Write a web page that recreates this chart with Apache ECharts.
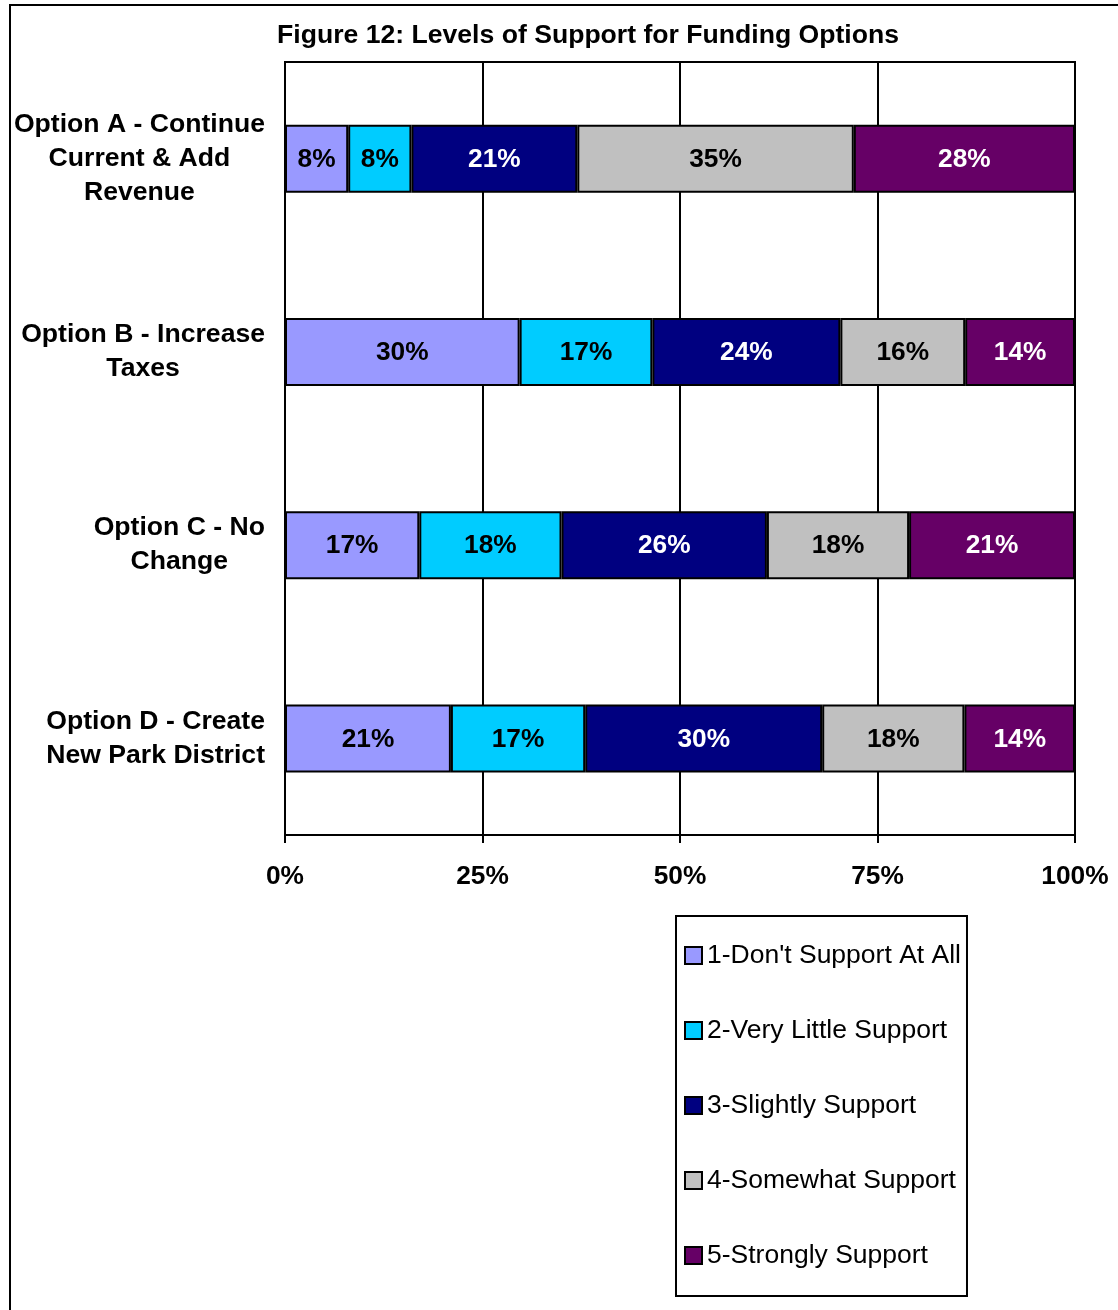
<!DOCTYPE html>
<html>
<head>
<meta charset="utf-8">
<script src="https://cdn.jsdelivr.net/npm/echarts@6/dist/echarts.min.js"></script>
<style>
html,body{margin:0;padding:0;background:#fff;}
#chart{width:1118px;height:1310px;}
</style>
</head>
<body>
<div id="chart"></div>
<script>
const titleText = "Figure 12: Levels of Support for Funding Options";
const categories = [
  "Option A - Continue\nCurrent & Add\nRevenue",
  "Option B - Increase\nTaxes",
  "Option C - No\nChange",
  "Option D - Create\nNew Park District"
];
const seriesNames = [
  "1-Don't Support At All",
  "2-Very Little Support",
  "3-Slightly Support",
  "4-Somewhat Support",
  "5-Strongly Support"
];
const dontSupport = [8, 29.7, 17, 21];
const veryLittle = [8, 16.8, 18, 17];
const slightly = [21, 23.8, 26, 30];
const somewhat = [35, 15.8, 18, 18];
const strongly = [28, 13.9, 21, 14];
const xTicks = [0, 25, 50, 75, 100];

const colors = ['#9999FF', '#00CCFF', '#000080', '#C0C0C0', '#660066'];
const labelColors = ['#000', '#000', '#fff', '#000', '#fff'];
const values = [dontSupport, veryLittle, slightly, somewhat, strongly];
const FONT = "'Liberation Sans', Arial, Helvetica, sans-serif";

const chart = echarts.init(document.getElementById('chart'), null, {renderer: 'canvas'});

const series = seriesNames.map((name, i) => ({
  name: name,
  type: 'bar',
  stack: 'total',
  barWidth: 68,
  data: values[i],
  itemStyle: {color: colors[i], borderColor: '#000', borderWidth: 2},
  label: {
    show: true,
    position: 'inside',
    offset: [0, 1],
    formatter: p => Math.round(p.value) + '%',
    color: labelColors[i],
    fontFamily: FONT,
    fontWeight: 'bold',
    fontSize: 26.3
  },
  emphasis: {disabled: true},
  animation: false
}));

const option = {
  animation: false,
  backgroundColor: '#fff',
  title: {
    text: titleText,
    left: 588,
    top: 22,
    textAlign: 'center',
    padding: 0,
    textStyle: {fontFamily: FONT, fontWeight: 'bold', fontSize: 26.6, color: '#000'}
  },
  graphic: [{
    type: 'rect',
    shape: {x: 10, y: 5, width: 1300, height: 1400},
    style: {fill: null, stroke: '#000', lineWidth: 2},
    silent: true,
    z: 100
  }],
  legend: {
    orient: 'vertical',
    left: 676,
    top: 916,
    padding: [26, 6, 27, 8],
    borderColor: '#000',
    borderWidth: 2,
    backgroundColor: '#fff',
    itemWidth: 17,
    itemHeight: 17,
    itemGap: 48,
    icon: 'rect',
    data: seriesNames,
    itemStyle: {borderColor: '#000', borderWidth: 2},
    textStyle: {fontFamily: FONT, fontSize: 26.5, color: '#000', lineHeight: 26},
    selectedMode: false
  },
  grid: {
    left: 285,
    right: 43,
    top: 62,
    bottom: 475,
    show: true,
    borderColor: '#000',
    borderWidth: 2,
    backgroundColor: 'transparent'
  },
  xAxis: {
    type: 'value',
    min: xTicks[0],
    max: xTicks[xTicks.length - 1],
    interval: 25,
    axisLine: {show: true, lineStyle: {color: '#000', width: 2}},
    axisTick: {show: true, length: 8, lineStyle: {color: '#000', width: 2}},
    splitLine: {show: true, lineStyle: {color: '#000', width: 2}},
    axisLabel: {
      margin: 29,
      formatter: v => v + '%',
      fontFamily: FONT,
      fontWeight: 'bold',
      fontSize: 26.3,
      color: '#000'
    }
  },
  yAxis: {
    type: 'category',
    inverse: true,
    data: categories,
    axisLine: {show: true, lineStyle: {color: '#000', width: 2}},
    axisTick: {show: false},
    splitLine: {show: false},
    axisLabel: {
      margin: 20,
      align: 'right',
      formatter: v => v.split('\n').map(l => '{c|' + l + '}').join('\n'),
      rich: {
        c: {
          align: 'center',
          fontFamily: FONT,
          fontWeight: 'bold',
          fontSize: 26.6,
          lineHeight: 34,
          color: '#000'
        }
      }
    }
  },
  series: series
};

chart.setOption(option);
</script>
</body>
</html>
